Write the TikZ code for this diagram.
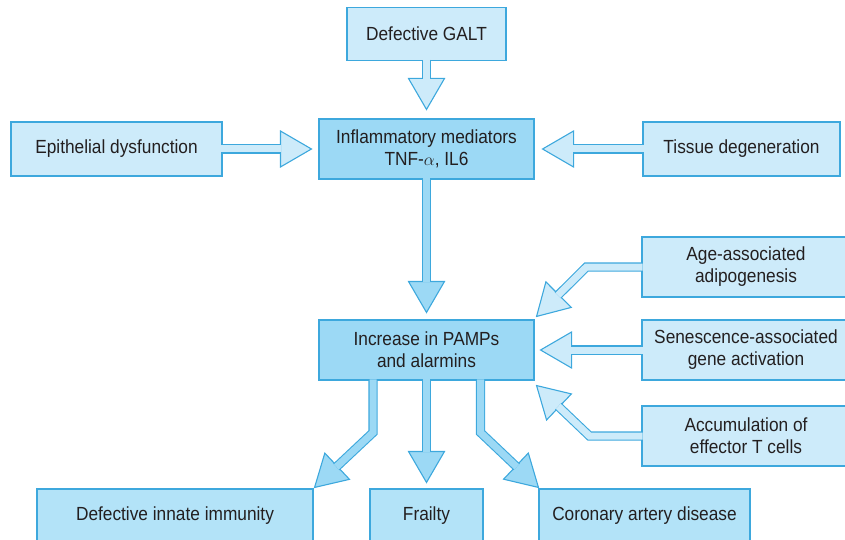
\documentclass[tikz,border=0pt]{standalone}
\usepackage{fontspec}
\usetikzlibrary{calc}
\newfontfamily\boxfont{Liberation Sans}[FakeStretch=0.91]

\definecolor{paleblue}{HTML}{CDEBFA}
\definecolor{deepblue}{HTML}{9CD9F5}
\definecolor{midblue}{HTML}{B3E3F8}
\definecolor{edgeblue}{HTML}{3DA8DD}
\definecolor{ink}{HTML}{231F20}

% block arrow head: fill, tip, point back along the shaft
\newcommand{\arrowtip}[3]{%
    \filldraw[arrowhead=#1] (#2) -- ($(#2)!31pt!(#3)!18pt!90:(#2)$)
        -- ($(#2)!31pt!(#3)!18pt!-90:(#2)$) -- cycle;
    \coordinate (#2-base) at ($(#2)!30pt!(#3)$);
}

\begin{document}
\begin{tikzpicture}[
    x=1pt, y=-1pt,
    % Common Styles
    box/.style={
        draw=edgeblue,
        line width=1.1pt,
        text=ink,
        align=center,
        inner sep=0pt,
        font={\boxfont\fontsize{19}{22}\selectfont}
    },
    lightbox/.style={box, fill=paleblue},
    darkbox/.style={box, fill=deepblue},
    midbox/.style={box, fill=midblue},
    arrowhead/.style={
        draw=edgeblue,
        line width=1.1pt,
        fill=#1,
        line join=miter
    },
    arrowshaft/.style={
        draw=edgeblue,
        line width=1.1pt,
        double=#1,
        double distance=7pt,
        shorten <=-1.2pt
    }
]
    \useasboundingbox (0,0) rectangle (845,540);
    \clip (0,0) rectangle (845,540);

    % ================= BOXES =================
    % Top row
    \node[lightbox, minimum width=159pt, minimum height=53pt] (galt) at (426.5,34) {Defective GALT};
    \node[darkbox, minimum width=215pt, minimum height=60pt] (infl) at (426.5,149) {Inflammatory mediators\\TNF-$\alpha$, IL6};
    \node[lightbox, minimum width=211pt, minimum height=54pt] (epi) at (116.5,149) {Epithelial dysfunction};
    \node[lightbox, minimum width=197pt, minimum height=54pt] (tissue) at (741.5,149) {Tissue degeneration};

    % Middle
    \node[darkbox, minimum width=215pt, minimum height=60pt] (pamps) at (426.5,350) {Increase in PAMPs\\and alarmins};

    % Right column
    \node[lightbox, minimum width=208pt, minimum height=60pt] (age) at (746,267) {Age-associated\\adipogenesis};
    \node[lightbox, minimum width=208pt, minimum height=60pt] (sen) at (746,350) {Senescence-associated\\gene activation};
    \node[lightbox, minimum width=208pt, minimum height=60pt] (acc) at (746,436) {Accumulation of\\effector T cells};

    % Bottom row
    \node[midbox, minimum width=276pt, minimum height=53pt] (innate) at (175,515.5) {Defective innate immunity};
    \node[midbox, minimum width=113pt, minimum height=53pt] (frail) at (426.5,515.5) {Frailty};
    \node[midbox, minimum width=211pt, minimum height=53pt] (coronary) at (644.5,515.5) {Coronary artery disease};

    % ================= ARROWS =================
    % Tips and bends
    \coordinate (t1) at ($(infl.north)+(0,-9)$);
    \coordinate (t2) at ($(infl.west)+(-7,0)$);
    \coordinate (t3) at ($(infl.east)+(8,0)$);
    \coordinate (t4) at ($(pamps.north)+(0,-7)$);

    \coordinate (b5) at ($(age.west)+(-55,0)$);
    \coordinate (t5) at ($(pamps.north east)+(2,-3)$);
    \coordinate (t6) at ($(pamps.east)+(6,0)$);
    \coordinate (b7) at ($(acc.west)+(-52,0)$);
    \coordinate (t7) at ($(pamps.south east)+(2,5)$);

    \coordinate (s8) at ($(pamps.south)+(-53.5,0)$);
    \coordinate (b8) at ($(s8)+(0,52)$);
    \coordinate (t8) at ($(innate.north east)+(1,-1)$);
    \coordinate (t9) at ($(frail.north)+(0,-6)$);
    \coordinate (s10) at ($(pamps.south)+(54,0)$);
    \coordinate (b10) at ($(s10)+(0,52)$);
    \coordinate (t10) at ($(coronary.north west)+(0,-1)$);

    % Heads
    \arrowtip{paleblue}{t1}{galt.south}
    \arrowtip{paleblue}{t2}{epi.east}
    \arrowtip{paleblue}{t3}{tissue.west}
    \arrowtip{deepblue}{t4}{infl.south}
    \arrowtip{paleblue}{t5}{b5}
    \arrowtip{paleblue}{t6}{sen.west}
    \arrowtip{paleblue}{t7}{b7}
    \arrowtip{deepblue}{t8}{b8}
    \arrowtip{deepblue}{t9}{pamps.south}
    \arrowtip{deepblue}{t10}{b10}

    % Shafts
    \draw[arrowshaft=paleblue] (galt.south) -- (t1-base);
    \draw[arrowshaft=paleblue] (epi.east) -- (t2-base);
    \draw[arrowshaft=paleblue] (tissue.west) -- (t3-base);
    \draw[arrowshaft=deepblue] (infl.south) -- (t4-base);
    \draw[arrowshaft=paleblue] (age.west) -- (b5) -- (t5-base);
    \draw[arrowshaft=paleblue] (sen.west) -- (t6-base);
    \draw[arrowshaft=paleblue] (acc.west) -- (b7) -- (t7-base);
    \draw[arrowshaft=deepblue] (s8) -- (b8) -- (t8-base);
    \draw[arrowshaft=deepblue] (pamps.south) -- (t9-base);
    \draw[arrowshaft=deepblue] (s10) -- (b10) -- (t10-base);

\end{tikzpicture}
\end{document}
